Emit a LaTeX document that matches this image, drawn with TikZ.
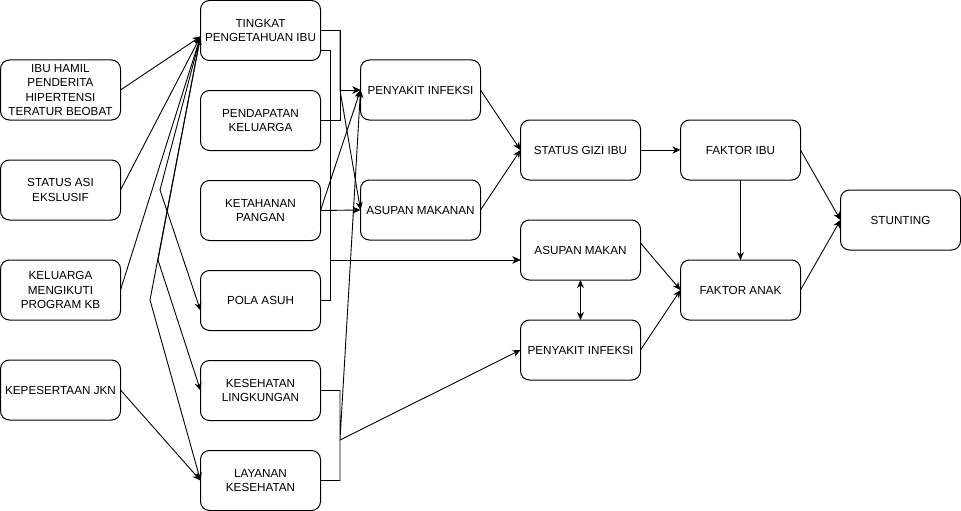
\documentclass[tikz,border=0pt]{standalone}
\usepackage{fontspec}
\setmainfont{Liberation Sans}
\usetikzlibrary{positioning,arrows.meta}

\begin{document}
\begin{tikzpicture}[
  x=1pt, y=-1pt,
  font=\fontsize{11.7}{14.5}\selectfont,
  box/.style={draw, rounded corners=9pt, line width=1pt, outer sep=0pt,
              minimum width=120pt, minimum height=60pt, align=center, inner sep=1.5pt},
  arr/.style={-{Stealth[length=8pt, width=7pt, inset=2.5pt]}, line width=0.9pt},
  dblarr/.style={{Stealth[length=8pt, width=7pt, inset=2.5pt]}-{Stealth[length=8pt, width=7pt, inset=2.5pt]}, line width=0.9pt}
]
\useasboundingbox (0,0) rectangle (961,511);

% ============ LEFT: PROGRAM FACTORS ============
\node[box] (ibuhamil) at (60.5,90) {IBU HAMIL\\PENDERITA\\HIPERTENSI\\TERATUR BEOBAT};
\node[box, below=40pt of ibuhamil] (asi) {STATUS ASI\\EKSLUSIF};
\node[box, below=40pt of asi] (kb) {KELUARGA\\MENGIKUTI\\PROGRAM KB};
\node[box, below=40pt of kb] (jkn) {KEPESERTAAN JKN};

% ============ MIDDLE: UNDERLYING FACTORS ============
\node[box] (tingkat) at (260.5,30.5) {TINGKAT\\PENGETAHUAN IBU};
\node[box, below=30pt of tingkat] (pendapatan) {PENDAPATAN\\KELUARGA};
\node[box, below=30pt of pendapatan] (pangan) {KETAHANAN\\PANGAN};
\node[box, below=30pt of pangan] (polaasuh) {POLA ASUH};
\node[box, below=30pt of polaasuh] (kesling) {KESEHATAN\\LINGKUNGAN};
\node[box, below=30pt of kesling] (layanan) {LAYANAN\\KESEHATAN};

% ============ DIRECT CAUSES ============
\node[box] (infeksiA) at (420.5,90) {PENYAKIT INFEKSI};
\node[box, below=60pt of infeksiA] (asupanA) {ASUPAN MAKANAN};

\node[box] (gizi) at (580.5,150) {STATUS GIZI IBU};
\node[box, below=40pt of gizi] (asupanB) {ASUPAN MAKAN};
\node[box, below=40pt of asupanB] (infeksiB) {PENYAKIT INFEKSI};

% ============ OUTCOME ============
\node[box, right=40pt of gizi] (ibu) {FAKTOR IBU};
\node[box, below=80pt of ibu] (anak) {FAKTOR ANAK};
\node[box] (stunting) at (900.5,220) {STUNTING};

% bend points of the routed wires
\coordinate (tin) at ([yshift=-6pt]tingkat.west);
\coordinate (wPola) at (160,190);
\coordinate (wKes) at (158,260);
\coordinate (wLay) at (150,300);
\coordinate (jPI) at (340,90);
\coordinate (jAM) at (330,260);
\coordinate (jBawah) at (340,440);

% left column into the middle column
\draw[arr] (ibuhamil.east) -- (tin);
\draw[arr] (asi.east) -- (tin);
\draw[arr] (kb.east) -- (tin);
\draw[arr] (jkn.east) -- (layanan.west);
\draw[arr] (tin) -- (wPola) -- ([yshift=-10pt]polaasuh.west);
\draw[arr] (tin) -- (wKes) -- (kesling.west);
\draw[arr] (tin) -- (wLay) -- (layanan.west);

% middle column into the direct causes
\draw[arr] (tingkat.east) -| (jPI) -- (infeksiA.west);
\draw[arr] (pendapatan.east) -| (jPI) -- (infeksiA.west);
\draw[arr] (tingkat.east) -| (jPI) -- (asupanA.west);
\draw[arr] (pangan.east) -- (infeksiA.west);
\draw[arr] (pangan.east) -- (asupanA.west);
\draw[arr] ([yshift=-20pt]tingkat.east) -| (jAM) -- ([yshift=-10pt]asupanB.west);
\draw[arr] (polaasuh.east) -| (jAM) -- ([yshift=-10pt]asupanB.west);
\draw[arr] (kesling.east) -| (jBawah) -- (infeksiA.west);
\draw[arr] (layanan.east) -| (jBawah) -- (infeksiB.west);

% towards stunting
\draw[arr] (infeksiA.east) -- (gizi.west);
\draw[arr] (asupanA.east) -- (gizi.west);
\draw[arr] (gizi) -- (ibu);
\draw[dblarr] (asupanB) -- (infeksiB);
\draw[arr] ([yshift=7pt]asupanB.east) -- (anak.west);
\draw[arr] (infeksiB.east) -- (anak.west);
\draw[arr] (ibu) -- (anak);
\draw[arr] (ibu.east) -- (stunting.west);
\draw[arr] (anak.east) -- (stunting.west);

\end{tikzpicture}
\end{document}
